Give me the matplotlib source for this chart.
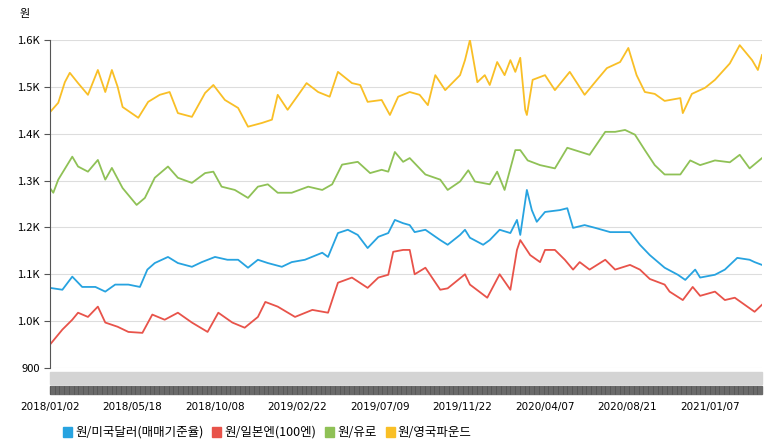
import matplotlib.pyplot as plt
from matplotlib.patches import Rectangle
from matplotlib.ticker import FuncFormatter

plt.rcParams["font.family"] = ["Noto Sans CJK KR", "DejaVu Sans"]

# trading-day index vs. won values
USD_DAY = [0, 15, 27, 39, 55, 67, 79, 95, 109, 118, 127, 143, 155, 172, 184, 200, 215, 228,
           240, 252, 264, 281, 293, 309, 330, 337, 349, 361, 373, 385, 398, 410, 418, 428,
           436, 442, 455, 473, 482, 497, 503, 509, 525, 533, 545, 558, 566, 570, 578, 584,
           590, 600, 618, 627, 634, 648, 661, 679, 703, 715, 727, 745, 761, 770, 782, 788,
           806, 818, 833, 848, 854, 863]
USD = [1071, 1067, 1095, 1073, 1073, 1063, 1078, 1078, 1073, 1110, 1124, 1137, 1124, 1116,
       1126, 1137, 1131, 1131, 1114, 1131, 1124, 1116, 1126, 1131, 1146, 1137, 1188, 1195,
       1184, 1156, 1180, 1188, 1216, 1209, 1205, 1190, 1195, 1173, 1163, 1184, 1195, 1178,
       1163, 1173, 1195, 1188, 1216, 1184, 1280, 1237, 1212, 1233, 1237, 1241, 1199, 1205,
       1199, 1190, 1190, 1163, 1141, 1114, 1099, 1088, 1110, 1093, 1099, 1110, 1135, 1131,
       1126, 1120]

JPY_DAY = [0, 15, 27, 34, 46, 58, 67, 82, 95, 112, 124, 139, 155, 172, 191, 204, 221, 236,
           252, 261, 276, 297, 318, 337, 349, 366, 385, 398, 410, 416, 428, 436, 442, 455,
           473, 482, 503, 509, 530, 545, 558, 566, 570, 582, 594, 600, 612, 624, 634, 642,
           654, 673, 685, 703, 715, 727, 745, 751, 767, 779, 788, 806, 818, 830, 842, 854, 863]
JPY = [950, 982, 1003, 1018, 1009, 1031, 997, 988, 977, 975, 1014, 1003, 1018, 997, 977,
       1018, 997, 986, 1009, 1041, 1031, 1009, 1024, 1018, 1082, 1093, 1071, 1093, 1099,
       1148, 1152, 1152, 1100, 1114, 1067, 1070, 1100, 1078, 1050, 1100, 1067, 1152, 1173,
       1141, 1126, 1152, 1152, 1131, 1110, 1126, 1110, 1131, 1110, 1120, 1110, 1090, 1078,
       1063, 1045, 1073, 1054, 1063, 1045, 1050, 1035, 1020, 1035]

EUR_DAY = [0, 4, 10, 27, 34, 46, 58, 67, 75, 88, 105, 115, 127, 143, 155, 172, 188, 198,
           208, 224, 240, 252, 264, 276, 293, 313, 330, 342, 354, 373, 388, 402, 410, 418,
           428, 436, 455, 473, 482, 497, 507, 515, 533, 542, 551, 564, 570, 579, 594, 612,
           627, 636, 654, 673, 685, 697, 709, 721, 733, 745, 764, 776, 788, 806, 824, 836,
           848, 863]
EUR = [1284, 1274, 1302, 1351, 1330, 1319, 1344, 1302, 1327, 1284, 1248, 1263, 1306, 1330,
       1306, 1295, 1316, 1319, 1287, 1280, 1263, 1287, 1292, 1274, 1274, 1287, 1280, 1292,
       1334, 1340, 1316, 1323, 1319, 1361, 1340, 1348, 1313, 1302, 1280, 1298, 1322, 1298,
       1292, 1319, 1280, 1365, 1365, 1343, 1333, 1326, 1370, 1365, 1355, 1404, 1404, 1408,
       1398, 1365, 1333, 1313, 1313, 1343, 1333, 1343, 1339, 1355, 1326, 1348]

GBP_DAY = [0, 10, 18, 24, 34, 46, 58, 67, 75, 82, 88, 107, 119, 133, 145, 155, 172, 188,
           198, 212, 228, 240, 257, 269, 276, 288, 301, 311, 325, 339, 349, 366, 376, 385,
           402, 412, 422, 436, 448, 458, 467, 479, 497, 503, 509, 518, 527, 533, 542, 551,
           558, 564, 570, 576, 578, 585, 600, 612, 630, 648, 663, 675, 691, 701, 711, 721,
           733, 745, 764, 767, 778, 794, 806, 824, 836, 851, 858, 863]
GBP = [1446, 1466, 1510, 1530, 1508, 1483, 1536, 1489, 1536, 1500, 1457, 1434, 1468, 1483,
       1489, 1444, 1436, 1487, 1504, 1472, 1455, 1415, 1423, 1430, 1483, 1451, 1483, 1508,
       1489, 1479, 1532, 1508, 1504, 1468, 1472, 1440, 1479, 1489, 1483, 1461, 1525, 1493,
       1525, 1557, 1600, 1510, 1525, 1504, 1553, 1525, 1557, 1532, 1562, 1451, 1440, 1515,
       1525, 1493, 1532, 1483, 1515, 1540, 1553, 1583, 1525, 1489, 1485, 1470, 1476, 1444,
       1485, 1498, 1515, 1550, 1589, 1557, 1536, 1568]

TICK_DAYS = [0, 100, 200, 300, 400, 500, 600, 700, 800]
TICK_LABELS = ["2018/01/02", "2018/05/18", "2018/10/08", "2019/02/22", "2019/07/09",
               "2019/11/22", "2020/04/07", "2020/08/21", "2021/01/07"]

SERIES = [("원/미국달러(매매기준율)", USD_DAY, USD, "#27a3e0"),
          ("원/일본엔(100엔)", JPY_DAY, JPY, "#e8534a"),
          ("원/유로", EUR_DAY, EUR, "#8fc156"),
          ("원/영국파운드", GBP_DAY, GBP, "#f9bf26")]

fig = plt.figure(figsize=(7.72, 4.47), dpi=100)
ax = fig.add_axes([50 / 772, 1 - 368 / 447, 712 / 772, 328 / 447])
for lab, d, v, c in SERIES:
    ax.plot(d, v, color=c, lw=1.3)

ax.set_xlim(0, 863)
ax.set_ylim(900, 1600)
ax.set_yticks(range(900, 1601, 100))
ax.yaxis.set_major_formatter(FuncFormatter(lambda v, p: "900" if v < 1000 else f"{v/1000:.1f}K"))
ax.tick_params(axis="y", labelsize=8, color="#555555", length=4)
ax.set_xticks([])
ax.grid(axis="y", color="#dddddd", lw=0.8)
ax.set_axisbelow(True)
for s in ["top", "right", "bottom"]:
    ax.spines[s].set_visible(False)
ax.spines["left"].set_color("#555555")
fig.text(20 / 772, 1 - 14 / 447, "원", fontsize=8, va="center")

# scrollbar-like bands under the plot
fig.patches.append(Rectangle((50 / 772, 1 - 384 / 447), 712 / 772, 12 / 447,
                             transform=fig.transFigure, color="#d4d4d4"))
fig.patches.append(Rectangle((50 / 772, 1 - 394 / 447), 712 / 772, 8 / 447,
                             transform=fig.transFigure, color="#6a6a6a"))
for k in range(0, 150):
    xx = (50 + k * 712 / 150) / 772
    fig.add_artist(plt.Line2D([xx, xx], [1 - 394 / 447, 1 - 386 / 447],
                              transform=fig.transFigure, color="#4a4a4a", lw=0.4))

for d, t in zip(TICK_DAYS, TICK_LABELS):
    xx = (50 + d * 712 / 863) / 772
    fig.text(xx, 1 - 407 / 447, t, fontsize=7.5, ha="center", va="center",
             family="DejaVu Sans")

lx = 63
for lab, d, v, c in SERIES:
    fig.patches.append(Rectangle((lx / 772, 1 - 437 / 447), 9 / 772, 10 / 447,
                                 transform=fig.transFigure, color=c))
    t = fig.text((lx + 12) / 772, 1 - 432 / 447, lab, fontsize=9, va="center")
    fig.canvas.draw()
    bb = t.get_window_extent()
    lx = bb.x1 + 9

fig.savefig("out.png", dpi=100)
